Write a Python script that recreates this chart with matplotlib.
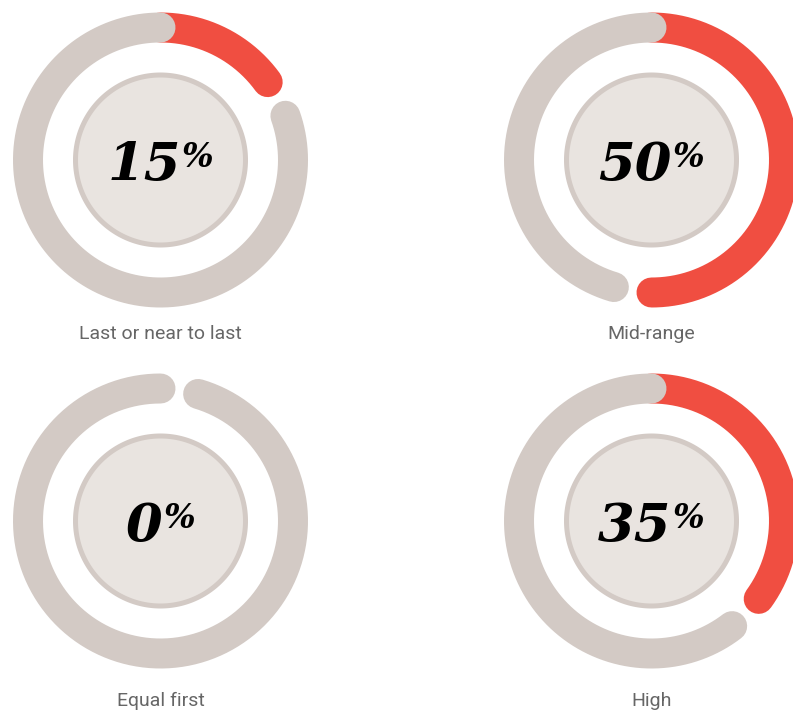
import numpy as np
import matplotlib.pyplot as plt
from matplotlib.transforms import ScaledTranslation

# gauge data
labels = ['Last or near to last', 'Mid-range', 'Equal first', 'High']
values = [15, 50, 0, 35]

# layout (pixel centres of each gauge, label baselines)
W, H, DPI = 793, 711, 100
centers = [(160.5, 160), (651.5, 160), (160.5, 521), (651.5, 521)]
label_base = [339, 339, 706, 706]

RED = '#f04e41'
RING = '#d3cac5'
DISK = '#e9e4e0'
LABEL = '#666666'

HALF = 160          # half size of each polar axes, px
R_RING = 132.5      # ring centre-line radius, px
LW_RING = 30 * 72 / DPI
R_DISK = 85
GAP = np.deg2rad(16.5)

fig = plt.figure(figsize=(W / DPI, H / DPI), dpi=DPI)
fig.patch.set_facecolor('white')

nums, pcts, axes = [], [], []
for (cx, cy), v, lab, lb in zip(centers, values, labels, label_base):
    rect = [(cx - HALF) / W, (H - cy - HALF) / H, 2 * HALF / W, 2 * HALF / H]
    ax = fig.add_axes(rect, projection='polar')
    ax.set_theta_zero_location('N')
    ax.set_theta_direction(-1)
    ax.set_ylim(0, HALF)
    ax.set_axis_off()

    end = v / 100 * 2 * np.pi
    if v > 0:
        th = np.linspace(0, end, 300)
        ax.plot(th, np.full_like(th, R_RING), color=RED, lw=LW_RING,
                solid_capstyle='round', clip_on=False)
    th = np.linspace(end + GAP, 2 * np.pi, 400)
    ax.plot(th, np.full_like(th, R_RING), color=RING, lw=LW_RING,
            solid_capstyle='round', clip_on=False)

    th = np.linspace(0, 2 * np.pi, 361)
    ax.fill(th, np.full_like(th, R_DISK), facecolor=DISK, edgecolor=RING,
            lw=5 * 72 / DPI)

    t = ax.text(0.5, 0.5, f'{v}', transform=ax.transAxes, ha='center',
                va='baseline', fontsize=38, fontweight='bold',
                style='italic', family='DejaVu Serif', color='black')
    p = ax.annotate('%', xy=(1, 1), xycoords=t, xytext=(1, -1),
                    textcoords='offset points', ha='left', va='top',
                    fontsize=24, fontweight='bold', style='italic',
                    family='DejaVu Serif', color='black')
    nums.append(t)
    pcts.append(p)
    axes.append(ax)

    fig.text(cx / W, 1 - lb / H, lab, ha='center', va='baseline',
             fontsize=14, color=LABEL, family=['Roboto', 'DejaVu Sans'])

# centre number + percent sign as one block
fig.canvas.draw()
for ax, t, p in zip(axes, nums, pcts):
    w = p.get_window_extent().width + 1 * DPI / 72
    t.set_transform(ax.transAxes + ScaledTranslation(-w / 2 / DPI, -20 / DPI,
                                                     fig.dpi_scale_trans))

fig.savefig('out.png', dpi=DPI, facecolor='white')
